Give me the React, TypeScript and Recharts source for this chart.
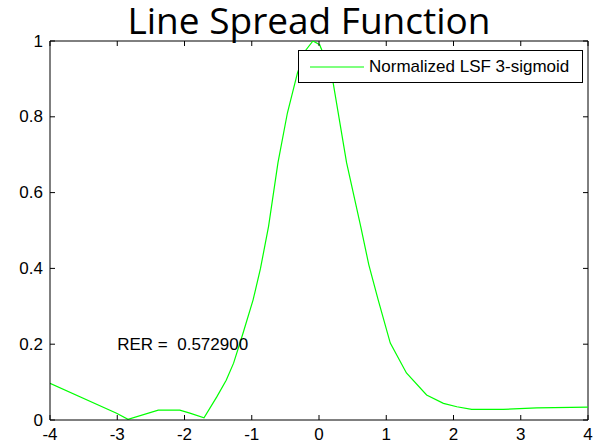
import React from "react";
import {
  LineChart,
  Line,
  XAxis,
  YAxis,
  ReferenceLine,
  ReferenceDot,
  Legend,
} from "recharts";

// normalized LSF samples (position in pixels of the edge, normalized response)
const positions = [
  -4, -3.01, -2.84, -2.39, -2.07, -1.92, -1.71, -1.52, -1.38, -1.27, -1.13,
  -0.98, -0.87, -0.75, -0.61, -0.47, -0.32, -0.2, -0.09, 0.01, 0.1, 0.21,
  0.41, 0.62, 0.74, 0.88, 1.06, 1.3, 1.6, 1.85, 2.05, 2.27, 2.74, 3.24, 4,
];
const lsf = [
  0.097, 0.018, 0.002, 0.026, 0.026, 0.018, 0.006, 0.061, 0.105, 0.15, 0.229,
  0.317, 0.4, 0.511, 0.679, 0.81, 0.916, 0.975, 1.0, 0.99, 0.95, 0.89, 0.679,
  0.511, 0.41, 0.317, 0.203, 0.124, 0.066, 0.044, 0.035, 0.028, 0.028, 0.032,
  0.034,
];
const xTicks = [-4, -3, -2, -1, 0, 1, 2, 3, 4];
const yTicks = [0, 0.2, 0.4, 0.6, 0.8, 1];
const seriesName = "Normalized LSF 3-sigmoid";
const rerLabel = "RER =  0.572900";
const rerAt = { x: -3, y: 0.2 };

const data = positions.map((x, i) => ({ x, y: lsf[i] }));

const W = 593;
const H = 443;
const PLOT_W = 538;
const PLOT_H = 379;
const TICK = 5;
const FONT = "'Liberation Sans', Arial, sans-serif";
const GREEN = "#00ff00";

const XTick = ({ x, y, payload }: any) => (
  <g>
    <line x1={x} y1={y} x2={x} y2={y - TICK} stroke="#000" />
    <line x1={x} y1={y - PLOT_H} x2={x} y2={y - PLOT_H + TICK} stroke="#000" />
    <text x={x} y={y + 20} textAnchor="middle" fontFamily={FONT} fontSize={17} fill="#000">
      {payload.value}
    </text>
  </g>
);

const YTick = ({ x, y, payload }: any) => (
  <g>
    <line x1={x} y1={y} x2={x + TICK} y2={y} stroke="#000" />
    <line x1={x + PLOT_W} y1={y} x2={x + PLOT_W - TICK} y2={y} stroke="#000" />
    <text
      x={x - 7}
      y={y}
      textAnchor="end"
      dominantBaseline="central"
      fontFamily={FONT}
      fontSize={17}
      fill="#000"
    >
      {payload.value}
    </text>
  </g>
);

const LegendBox = () => (
  <div
    style={{
      boxSizing: "border-box",
      width: 285,
      height: 33,
      border: "1px solid #000",
      background: "#fff",
      display: "flex",
      alignItems: "center",
      fontFamily: FONT,
      fontSize: 17,
      color: "#000",
    }}
  >
    <svg width={66} height={10} style={{ marginLeft: 11 }}>
      <line x1={0} y1={5} x2={54} y2={5} stroke={GREEN} strokeWidth={1.2} />
    </svg>
    <span style={{ whiteSpace: "nowrap", marginLeft: -7 }}>{seriesName}</span>
  </div>
);

const RerText = (props: any) => {
  const vb = props.viewBox || {};
  return (
    <text
      x={vb.x}
      y={vb.y}
      dominantBaseline="central"
      fontFamily={FONT}
      fontSize={17}
      fill="#000"
      style={{ whiteSpace: "pre" }}
    >
      {rerLabel}
    </text>
  );
};

export default function App() {
  return (
    <div style={{ position: "absolute", left: 0, top: 0, width: W, height: H, background: "#fff" }}>
      <div
        style={{
          position: "absolute",
          left: 25,
          top: 0,
          width: 568,
          height: 42,
          textAlign: "center",
          fontFamily: "'Open Sans', sans-serif",
          fontSize: 37,
          lineHeight: "40px",
          whiteSpace: "nowrap",
          color: "#000",
          zIndex: 1,
        }}
      >
        Line Spread Function
      </div>
      <LineChart width={W} height={H} data={data} margin={{ top: 41, right: 5, bottom: 0, left: 0 }}>
        <XAxis
          dataKey="x"
          type="number"
          domain={[-4, 4]}
          ticks={xTicks}
          interval={0}
          allowDataOverflow
          height={23}
          tickSize={0}
          tickMargin={0}
          tick={<XTick />}
          axisLine={{ stroke: "#000" }}
        />
        <YAxis
          type="number"
          domain={[0, 1]}
          ticks={yTicks}
          interval={0}
          allowDataOverflow
          width={50}
          tickSize={0}
          tickMargin={0}
          tick={<YTick />}
          axisLine={{ stroke: "#000" }}
        />
        <ReferenceLine y={1} stroke="#000" />
        <ReferenceLine x={4} stroke="#000" />
        <Line
          type="linear"
          dataKey="y"
          name={seriesName}
          stroke={GREEN}
          strokeWidth={1.2}
          dot={false}
          isAnimationActive={false}
        />
        <ReferenceDot
          x={rerAt.x}
          y={rerAt.y}
          r={0}
          stroke="none"
          fill="none"
          label={<RerText />}
        />
        <Legend
          layout="horizontal"
          verticalAlign="middle"
          align="center"
          content={() => <LegendBox />}
          wrapperStyle={{ position: "absolute", left: 298, top: 50, width: 285, height: 33 }}
        />
      </LineChart>
    </div>
  );
}
